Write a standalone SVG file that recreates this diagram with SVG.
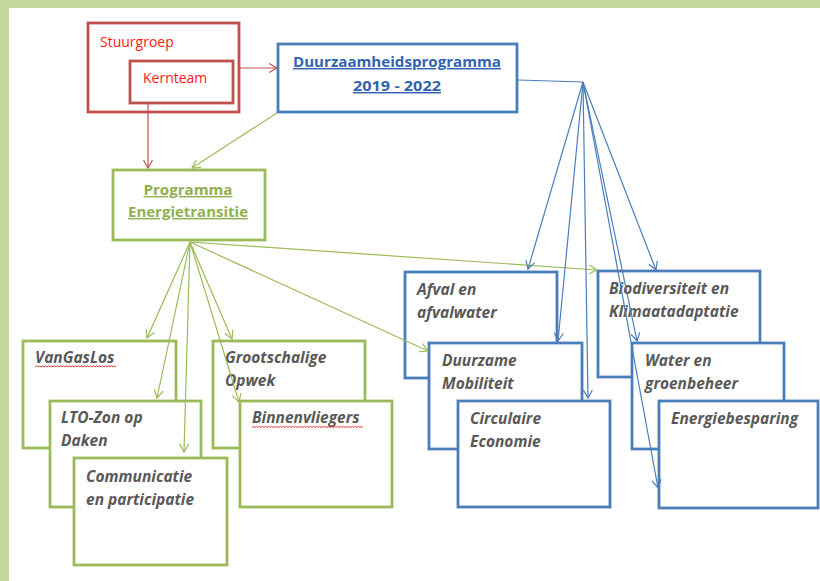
<svg xmlns="http://www.w3.org/2000/svg" width="820" height="581" viewBox="0 0 820 581">
<style>
.bg{fill:#ffffff}
.band{fill:#c3d69b}
.red{fill:#ffffff;stroke:#c0504d;stroke-width:2.8}
.blue{fill:#ffffff;stroke:#4a7ebb;stroke-width:2.8}
.green{fill:#ffffff;stroke:#9bbb59;stroke-width:2.8}
.rt{font-family:"Open Sans","Liberation Sans",sans-serif;font-size:14px;fill:#ff1a1a}
.it{font-family:"Open Sans","Liberation Sans",sans-serif;font-size:15.5px;font-weight:bold;font-style:italic;fill:#595959}
.bt{font-family:"Open Sans","Liberation Sans",sans-serif;font-size:14.5px;font-weight:bold;fill:#3163b0;text-decoration:underline}
.gt{font-family:"Open Sans","Liberation Sans",sans-serif;font-size:14px;font-weight:bold;fill:#8fb04f;text-decoration:underline}
.cr{fill:none;stroke:#c0504d;stroke-width:1.2}
.cg{fill:none;stroke:#9bbb59;stroke-width:1.2}
.cb{fill:none;stroke:#4a7ebb;stroke-width:1.2}
.wavy{fill:none;stroke:#e02020;stroke-width:0.9}
</style>
<defs>
<marker id="ar" markerUnits="userSpaceOnUse" markerWidth="12" markerHeight="12" viewBox="-10 -6 12 12" refX="0" refY="0" orient="auto"><path d="M-8,-4.5 L0,0 L-8,4.5" fill="none" stroke="#c0504d" stroke-width="1.2"/></marker>
<marker id="ag" markerUnits="userSpaceOnUse" markerWidth="12" markerHeight="12" viewBox="-10 -6 12 12" refX="0" refY="0" orient="auto"><path d="M-8,-4.5 L0,0 L-8,4.5" fill="none" stroke="#9bbb59" stroke-width="1.2"/></marker>
<marker id="ab" markerUnits="userSpaceOnUse" markerWidth="12" markerHeight="12" viewBox="-10 -6 12 12" refX="0" refY="0" orient="auto"><path d="M-8,-4.5 L0,0 L-8,4.5" fill="none" stroke="#4a7ebb" stroke-width="1.2"/></marker>
</defs>
<rect class="bg" x="0" y="0" width="820" height="581"/>
<rect class="band" x="0" y="0" width="820" height="8"/>
<rect class="band" x="0" y="0" width="9" height="581"/>

<g id="stuurgroep">
<rect class="red" x="88" y="23" width="151" height="89"/>
<text class="rt" x="100" y="47">Stuurgroep</text>
</g>
<g id="kernteam">
<rect class="red" x="130" y="61" width="103" height="42"/>
<text class="rt" x="143" y="83">Kernteam</text>
</g>
<g id="duurzaamheidsprogramma">
<rect class="blue" x="278" y="44" width="239" height="68"/>
<text class="bt" x="397" y="67" text-anchor="middle" textLength="208" lengthAdjust="spacingAndGlyphs">Duurzaamheidsprogramma</text>
<text class="bt" x="397" y="91" text-anchor="middle" textLength="88" lengthAdjust="spacingAndGlyphs">2019 - 2022</text>
</g>
<g id="programma-energietransitie">
<rect class="green" x="113" y="170" width="152" height="70"/>
<text class="gt" x="188" y="195" text-anchor="middle" textLength="89" lengthAdjust="spacingAndGlyphs">Programma</text>
<text class="gt" x="188" y="217" text-anchor="middle" textLength="120" lengthAdjust="spacingAndGlyphs">Energietransitie</text>
</g>

<g id="vangaslos">
<rect class="green" x="23" y="341" width="153" height="107"/>
<text class="it" x="35" y="363">VanGasLos</text>
<path class="wavy" d="M35,367 l1.5,-1.2 l1.5,1.2 l1.5,-1.2 l1.5,1.2 l1.5,-1.2 l1.5,1.2 l1.5,-1.2 l1.5,1.2 l1.5,-1.2 l1.5,1.2 l1.5,-1.2 l1.5,1.2 l1.5,-1.2 l1.5,1.2 l1.5,-1.2 l1.5,1.2 l1.5,-1.2 l1.5,1.2 l1.5,-1.2 l1.5,1.2 l1.5,-1.2 l1.5,1.2 l1.5,-1.2 l1.5,1.2 l1.5,-1.2 l1.5,1.2 l1.5,-1.2 l1.5,1.2 l1.5,-1.2 l1.5,1.2 l1.5,-1.2 l1.5,1.2 l1.5,-1.2 l1.5,1.2 l1.5,-1.2 l1.5,1.2 l1.5,-1.2 l1.5,1.2 l1.5,-1.2 l1.5,1.2 l1.5,-1.2 l1.5,1.2 l1.5,-1.2 l1.5,1.2 l1.5,-1.2 l1.5,1.2 l1.5,-1.2 l1.5,1.2 l1.5,-1.2 l1.5,1.2 l1.5,-1.2 l1.5,1.2 l1.5,-1.2 l1.5,1.2"/>
</g>
<g id="lto-zon">
<rect class="green" x="50" y="401" width="151" height="106"/>
<text class="it" x="61" y="423">LTO-Zon op</text>
<text class="it" x="61" y="446">Daken</text>
</g>
<g id="communicatie">
<rect class="green" x="74" y="458" width="153" height="107"/>
<text class="it" x="86" y="482">Communicatie</text>
<text class="it" x="86" y="505">en participatie</text>
</g>
<g id="grootschalige-opwek">
<rect class="green" x="213" y="341" width="152" height="107"/>
<text class="it" x="225" y="363">Grootschalige</text>
<text class="it" x="225" y="386">Opwek</text>
</g>
<g id="binnenvliegers">
<rect class="green" x="240" y="401" width="152" height="106"/>
<text class="it" x="252" y="423">Binnenvliegers</text>
<path class="wavy" d="M252,427.5 l1.5,-1.2 l1.5,1.2 l1.5,-1.2 l1.5,1.2 l1.5,-1.2 l1.5,1.2 l1.5,-1.2 l1.5,1.2 l1.5,-1.2 l1.5,1.2 l1.5,-1.2 l1.5,1.2 l1.5,-1.2 l1.5,1.2 l1.5,-1.2 l1.5,1.2 l1.5,-1.2 l1.5,1.2 l1.5,-1.2 l1.5,1.2 l1.5,-1.2 l1.5,1.2 l1.5,-1.2 l1.5,1.2 l1.5,-1.2 l1.5,1.2 l1.5,-1.2 l1.5,1.2 l1.5,-1.2 l1.5,1.2 l1.5,-1.2 l1.5,1.2 l1.5,-1.2 l1.5,1.2 l1.5,-1.2 l1.5,1.2 l1.5,-1.2 l1.5,1.2 l1.5,-1.2 l1.5,1.2 l1.5,-1.2 l1.5,1.2 l1.5,-1.2 l1.5,1.2 l1.5,-1.2 l1.5,1.2 l1.5,-1.2 l1.5,1.2 l1.5,-1.2 l1.5,1.2 l1.5,-1.2 l1.5,1.2 l1.5,-1.2 l1.5,1.2 l1.5,-1.2 l1.5,1.2 l1.5,-1.2 l1.5,1.2 l1.5,-1.2 l1.5,1.2 l1.5,-1.2 l1.5,1.2 l1.5,-1.2 l1.5,1.2 l1.5,-1.2 l1.5,1.2 l1.5,-1.2 l1.5,1.2 l1.5,-1.2 l1.5,1.2 l1.5,-1.2 l1.5,1.2 l1.5,-1.2 l1.5,1.2"/>
</g>

<g id="afval">
<rect class="blue" x="405" y="272" width="152" height="106"/>
<text class="it" x="417" y="295">Afval en</text>
<text class="it" x="417" y="318">afvalwater</text>
</g>
<g id="duurzame-mobiliteit">
<rect class="blue" x="429" y="343" width="153" height="106"/>
<text class="it" x="442" y="366">Duurzame</text>
<text class="it" x="442" y="389">Mobiliteit</text>
</g>
<g id="circulaire-economie">
<rect class="blue" x="458" y="401" width="152" height="106"/>
<text class="it" x="470" y="424">Circulaire</text>
<text class="it" x="470" y="447">Economie</text>
</g>
<g id="biodiversiteit">
<rect class="blue" x="598" y="271" width="162" height="106"/>
<text class="it" x="609" y="294">Biodiversiteit en</text>
<text class="it" x="609" y="317">Klimaatadaptatie</text>
</g>
<g id="water-groenbeheer">
<rect class="blue" x="632" y="343" width="152" height="106"/>
<text class="it" x="645" y="366">Water en</text>
<text class="it" x="645" y="389">groenbeheer</text>
</g>
<g id="energiebesparing">
<rect class="blue" x="659" y="401" width="159" height="107"/>
<text class="it" x="671" y="424">Energiebesparing</text>
</g>

<g id="connectors">
<path class="cr" d="M240,68 L277,68" marker-end="url(#ar)"/>
<path class="cr" d="M148,104 L148,168" marker-end="url(#ar)"/>
<path class="cg" d="M277,113 L192,168" marker-end="url(#ag)"/>
<path class="cb" d="M518,80 L583,82"/>
<path class="cg" d="M190,242 L147,338" marker-end="url(#ag)"/>
<path class="cg" d="M190,242 L157,398" marker-end="url(#ag)"/>
<path class="cg" d="M190,242 L184,452" marker-end="url(#ag)"/>
<path class="cg" d="M190,242 L232,339" marker-end="url(#ag)"/>
<path class="cg" d="M190,242 L239,402" marker-end="url(#ag)"/>
<path class="cg" d="M190,242 L428,351" marker-end="url(#ag)"/>
<path class="cg" d="M190,242 L597,270" marker-end="url(#ag)"/>
<path class="cb" d="M583,82 L528,269" marker-end="url(#ab)"/>
<path class="cb" d="M583,82 L558,341" marker-end="url(#ab)"/>
<path class="cb" d="M583,82 L588,398" marker-end="url(#ab)"/>
<path class="cb" d="M583,82 L656,270" marker-end="url(#ab)"/>
<path class="cb" d="M583,82 L637,341" marker-end="url(#ab)"/>
<path class="cb" d="M583,82 L658,488" marker-end="url(#ab)"/>
</g>
</svg>
